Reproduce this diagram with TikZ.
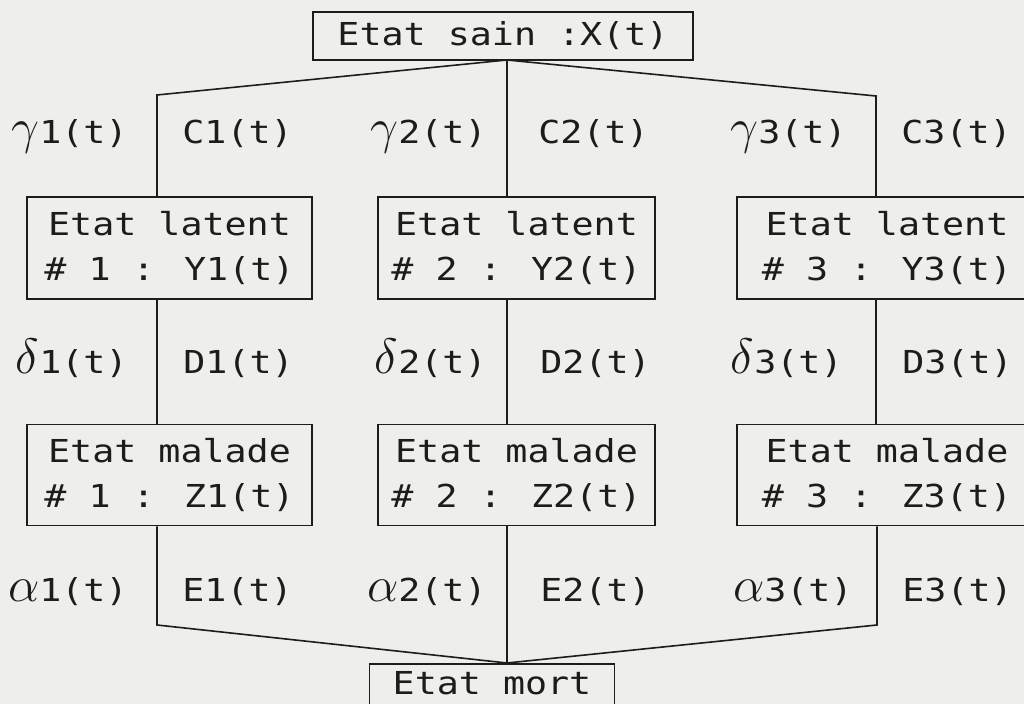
\documentclass[tikz,border=0pt]{standalone}
\usepackage{fontspec}
\newfontfamily\plotfont[FakeStretch=1.16]{DejaVu Sans Mono}
\definecolor{paper}{RGB}{238,238,234}
\definecolor{ink}{RGB}{28,28,28}
\newcommand\gk[1]{{\fontsize{26}{26}\selectfont$#1$}}
\begin{document}
\begin{tikzpicture}[x=0.5pt,y=-0.5pt,
  state/.style={draw=ink, line width=0.8pt, text=ink, align=center, inner sep=0pt,
    font=\plotfont\fontsize{15.8}{22.5}\selectfont},
  lbl/.style={inner sep=0pt, text=ink, font=\plotfont\fontsize{15.8}{19}\selectfont},
  link/.style={draw=ink, line width=0.8pt}]
\fill[paper] (0,0) rectangle (1024,704);
\clip (0,0) rectangle (1024,704);
\useasboundingbox (0,0) rectangle (1024,704);

% states
\node[state, minimum width=190pt, minimum height=24pt] (top) at (503,36) {Etat sain :X(t)};
\node[state, minimum width=142.5pt, minimum height=51pt] (L1) at (169.5,248) {Etat latent\\\# 1 : Y1(t)};
\node[state, minimum width=138.5pt, minimum height=51pt] (L2) at (516.5,248) {Etat latent\\\# 2 : Y2(t)};
\node[state, minimum width=150pt, minimum height=51pt] (L3) at (887,248) {Etat latent\\\# 3 : Y3(t)};
\node[state, minimum width=142.5pt, minimum height=50.5pt] (M1) at (169.5,475) {Etat malade\\\# 1 : Z1(t)};
\node[state, minimum width=138.5pt, minimum height=50.5pt] (M2) at (516.5,475) {Etat malade\\\# 2 : Z2(t)};
\node[state, minimum width=150pt, minimum height=50.5pt] (M3) at (887,475) {Etat malade\\\# 3 : Z3(t)};
\node[state, anchor=north, minimum width=122.5pt, text height=15.25pt, text depth=20pt] (dead) at (492,663) {Etat mort};

% junction points
\coordinate (ht) at (507,60);
\coordinate (t1) at (157,95);
\coordinate (t3) at (876,96);
\coordinate (hb) at (507,663);
\coordinate (b1) at (157,625);
\coordinate (b3) at (877,625);

% connectors
\draw[link] (t1 |- L1.north) -- (t1) -- (ht) -- (t3) -- (t3 |- L3.north);
\draw[link] (ht) -- (ht |- L2.north);
\draw[link] (t1 |- L1.south) -- (t1 |- M1.north);
\draw[link] (ht |- L2.south) -- (ht |- M2.north);
\draw[link] (t3 |- L3.south) -- (t3 |- M3.north);
\draw[link] (b1 |- M1.south) -- (b1) -- (hb) -- (b3) -- (b3 |- M3.south);
\draw[link] (hb |- M2.south) -- (hb);

% labels row 1
\node[lbl, anchor=base east] (g1) at (128,143.5) {\gk{\gamma}1(t)};
\node[lbl, anchor=base west] (c1) at (182,143.5) {C1(t)};
\node[lbl, anchor=base east] (g2) at (487,143.5) {\gk{\gamma}2(t)};
\node[lbl, anchor=base west] (c2) at (538,143.5) {C2(t)};
\node[lbl, anchor=base east] (g3) at (847,143.5) {\gk{\gamma}3(t)};
\node[lbl, anchor=base west] (c3) at (901,143.5) {C3(t)};
% labels row 2
\node[lbl, anchor=base east] (d1) at (128,373.5) {\gk{\delta}1(t)};
\node[lbl, anchor=base west] (dd1) at (183,373.5) {D1(t)};
\node[lbl, anchor=base east] (d2) at (487,373.5) {\gk{\delta}2(t)};
\node[lbl, anchor=base west] (dd2) at (540,373.5) {D2(t)};
\node[lbl, anchor=base east] (d3) at (843,373.5) {\gk{\delta}3(t)};
\node[lbl, anchor=base west] (dd3) at (902,373.5) {D3(t)};
% labels row 3
\node[lbl, anchor=base east] (a1) at (128,601.5) {\gk{\alpha}1(t)};
\node[lbl, anchor=base west] (e1) at (182,601.5) {E1(t)};
\node[lbl, anchor=base east] (a2) at (487,601.5) {\gk{\alpha}2(t)};
\node[lbl, anchor=base west] (e2) at (540,601.5) {E2(t)};
\node[lbl, anchor=base east] (a3) at (853,601.5) {\gk{\alpha}3(t)};
\node[lbl, anchor=base west] (e3) at (902,601.5) {E3(t)};
\end{tikzpicture}
\end{document}
